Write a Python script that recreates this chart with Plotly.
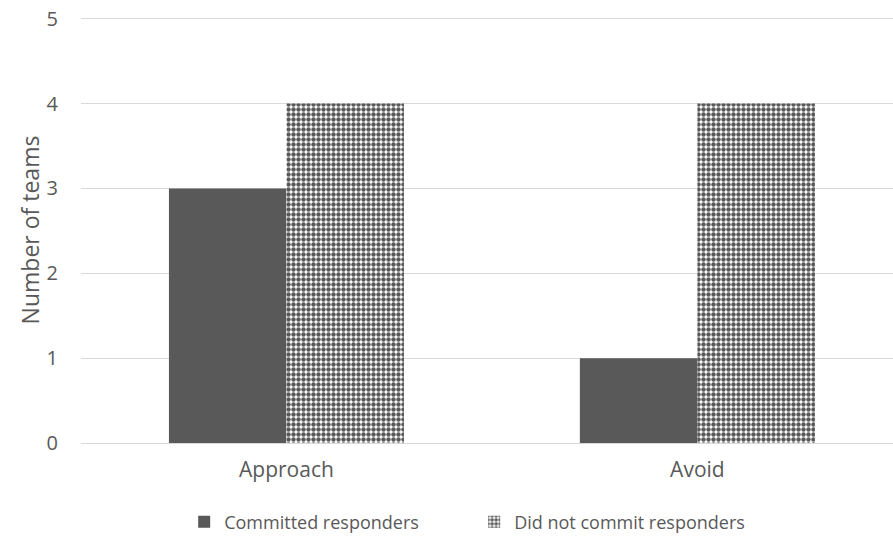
import plotly.graph_objects as go

categories = ["Approach", "Avoid"]
committed = [3, 1]
not_committed = [4, 4]

DARK = "#595959"
TEXT = "#595959"
FONT = "Open Sans, Lato, sans-serif"

fig = go.Figure()
fig.add_trace(go.Bar(
    x=categories, y=committed, name="Committed responders",
    marker=dict(color=DARK, line=dict(width=0)),
))
fig.add_trace(go.Bar(
    x=categories, y=not_committed, name="Did not commit responders",
    marker=dict(color="white", line=dict(width=0),
                pattern=dict(shape=".", fgcolor=DARK, bgcolor="white",
                             size=5, solidity=0.62, fillmode="replace")),
))

fig.update_layout(
    width=893, height=545,
    margin=dict(l=81, r=0, t=17, b=102),
    paper_bgcolor="white", plot_bgcolor="white",
    barmode="group", bargap=0.428, bargroupgap=0,
    font=dict(family=FONT, size=20, color=TEXT),
    showlegend=True,
    legend=dict(orientation="h", x=0.531, xref="container", xanchor="center",
                y=0.042, yref="container", yanchor="middle",
                font=dict(size=18, color=TEXT),
                itemwidth=30, tracegroupgap=0,
                entrywidth=245, entrywidthmode="pixels"),
    xaxis=dict(type="category", range=[-0.5, 1.476], showgrid=False,
               showline=False, ticks="", zeroline=False,
               ticklabelstandoff=12,
               tickfont=dict(size=21, color=TEXT)),
    yaxis=dict(range=[0, 5.02], dtick=1, showgrid=True, gridcolor="#d9d9d9",
               gridwidth=1, zeroline=True, zerolinecolor="#d9d9d9",
               zerolinewidth=1, ticks="", showline=False,
               tickfont=dict(size=20, color=TEXT), ticklabelstandoff=22,
               title=dict(text="Number of teams", font=dict(size=23, color=TEXT),
                          standoff=0)),
)

fig.write_html("out.html")
